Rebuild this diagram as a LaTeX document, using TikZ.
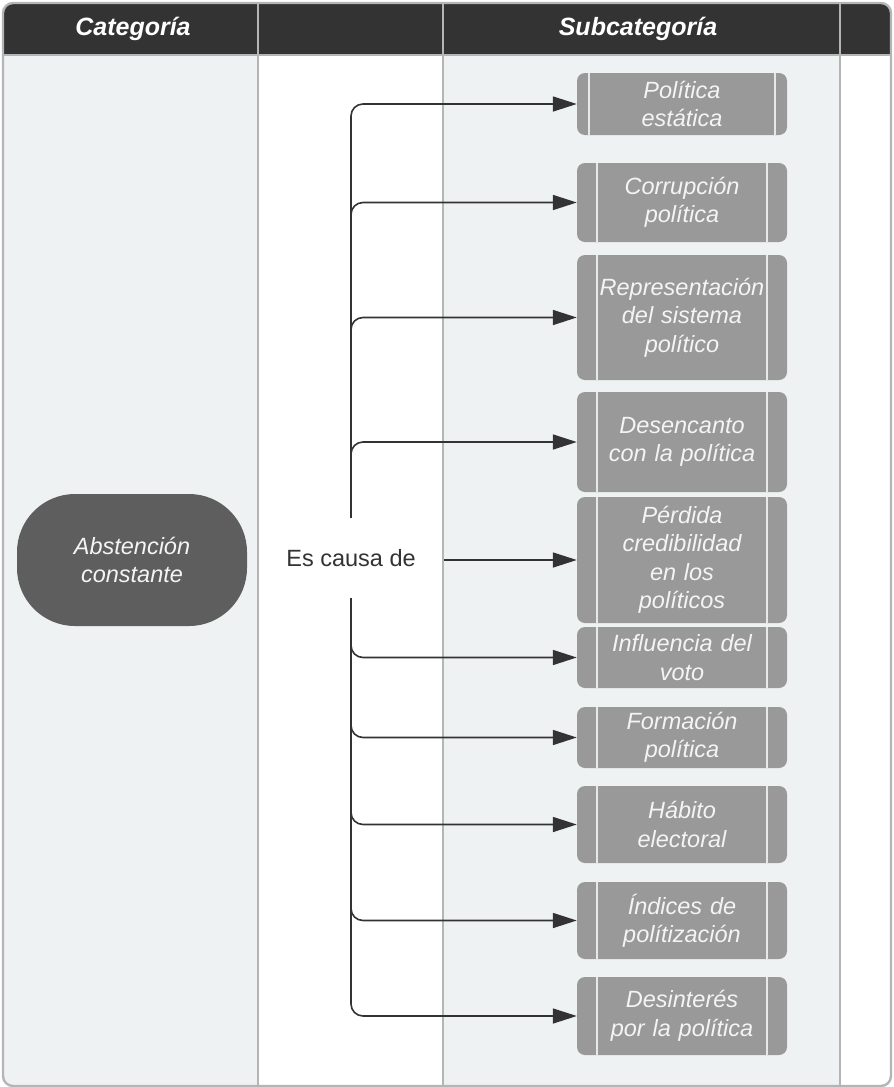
\documentclass[tikz,border=0pt]{standalone}
\usepackage{fontspec}
\setmainfont{Liberation Sans}
\usetikzlibrary{arrows.meta}
\definecolor{hdr}{HTML}{333333}
\definecolor{colbg}{HTML}{EFF2F3}
\definecolor{gridc}{HTML}{B5B5B5}
\definecolor{boxgray}{HTML}{999999}
\definecolor{catgray}{HTML}{5E5E5E}
\definecolor{conncol}{HTML}{333333}
\definecolor{innerc}{HTML}{E8E8E8}
\definecolor{boxtext}{HTML}{F4F4F4}
\tikzset{
  hdrtext/.style={text=white, font=\fontsize{25}{30}\selectfont\bfseries\itshape},
  catnode/.style={fill=catgray, rounded corners=58pt, minimum width=230pt, minimum height=132pt,
    text=boxtext, align=center, font=\fontsize{23.5}{28.5}\selectfont\itshape},
  relnode/.style={text=conncol, minimum width=186pt, minimum height=80pt, inner sep=0pt,
    font=\fontsize{23.5}{28.5}\selectfont},
  subbox/.style={fill=boxgray, rounded corners=8pt, minimum width=210pt, text width=200pt,
    align=center, inner sep=0pt, text=boxtext, font=\fontsize{23.5}{28.5}\selectfont\itshape},
  innerline/.style={draw=innerc, line width=1.6pt},
  conn/.style={draw=conncol, line width=1.6pt, -{Triangle[length=24pt,width=15pt]}},
  trunk/.style={conn, rounded corners=12pt},
}
\begin{document}
\begin{tikzpicture}[x=1pt,y=-1pt]
\useasboundingbox (0,0) rectangle (894,1087);
% background columns
\begin{scope}
  \clip[rounded corners=10pt] (3,3) rectangle (891,1086);
  \fill[white] (3,3) rectangle (891,1086);
  \fill[colbg] (3,55) rectangle (258,1086);
  \fill[colbg] (443,55) rectangle (840,1086);
  \fill[hdr] (3,3) rectangle (891,55);
\end{scope}
\draw[gridc, line width=2.2pt] (258,3) -- (258,1086);
\draw[gridc, line width=2.2pt] (443,3) -- (443,1086);
\draw[gridc, line width=2.2pt] (840,3) -- (840,1086);
\draw[gridc, line width=2.2pt] (3,55) -- (891,55);
\draw[gridc, line width=2.4pt, rounded corners=10pt] (3,3) rectangle (891,1086);
% headers
\node[hdrtext] (h1) at (133,29) {Categoría};
\node[hdrtext] (h2) at (638,29) {Subcategoría};
% category
\node[catnode] (cat) at (132,560) {Abstención\\constante};
\node[relnode] (rel) at (351,558) {Es causa de};
% subcategory boxes
\node[subbox, minimum height=62pt] (b1) at (682,104) {Política\\estática};
\node[subbox, minimum height=79pt] (b2) at (682,202.5) {Corrupción\\política};
\node[subbox, minimum height=125pt] (b3) at (682,317.5) {Representación\\del sistema\\político};
\node[subbox, minimum height=100pt] (b4) at (682,442) {Desencanto\\con la política};
\node[subbox, minimum height=126pt] (b5) at (682,560) {Pérdida\\credibilidad\\en los\\políticos};
\node[subbox, minimum height=61pt] (b6) at (682,657.5) {Influencia del\\voto};
\node[subbox, minimum height=61pt] (b7) at (682,737.5) {Formación\\política};
\node[subbox, minimum height=77pt] (b8) at (682,824.5) {Hábito\\electoral};
\node[subbox, minimum height=77pt] (b9) at (682,920.5) {Índices de\\polítización};
\node[subbox, minimum height=78pt] (b10) at (682,1016) {Desinterés\\por la política};
% inner lines
\draw[innerline] ([xshift=12pt]b1.north west) -- ([xshift=12pt]b1.south west);
\draw[innerline] ([xshift=-12pt]b1.north east) -- ([xshift=-12pt]b1.south east);
\foreach \b in {b2,b3,b4,b5,b6,b7,b8,b9,b10}{
  \draw[innerline] ([xshift=20pt]\b.north west) -- ([xshift=20pt]\b.south west);
  \draw[innerline] ([xshift=-20pt]\b.north east) -- ([xshift=-20pt]\b.south east);
}
% connectors
\foreach \b in {b1,b2,b3,b4}{
  \draw[trunk] (rel.north) |- (\b.west);
}
\draw[conn] (rel.east |- b5.west) -- (b5.west);
\foreach \b in {b6,b7,b8,b9,b10}{
  \draw[trunk] (rel.south) |- (\b.west);
}
\end{tikzpicture}
\end{document}
